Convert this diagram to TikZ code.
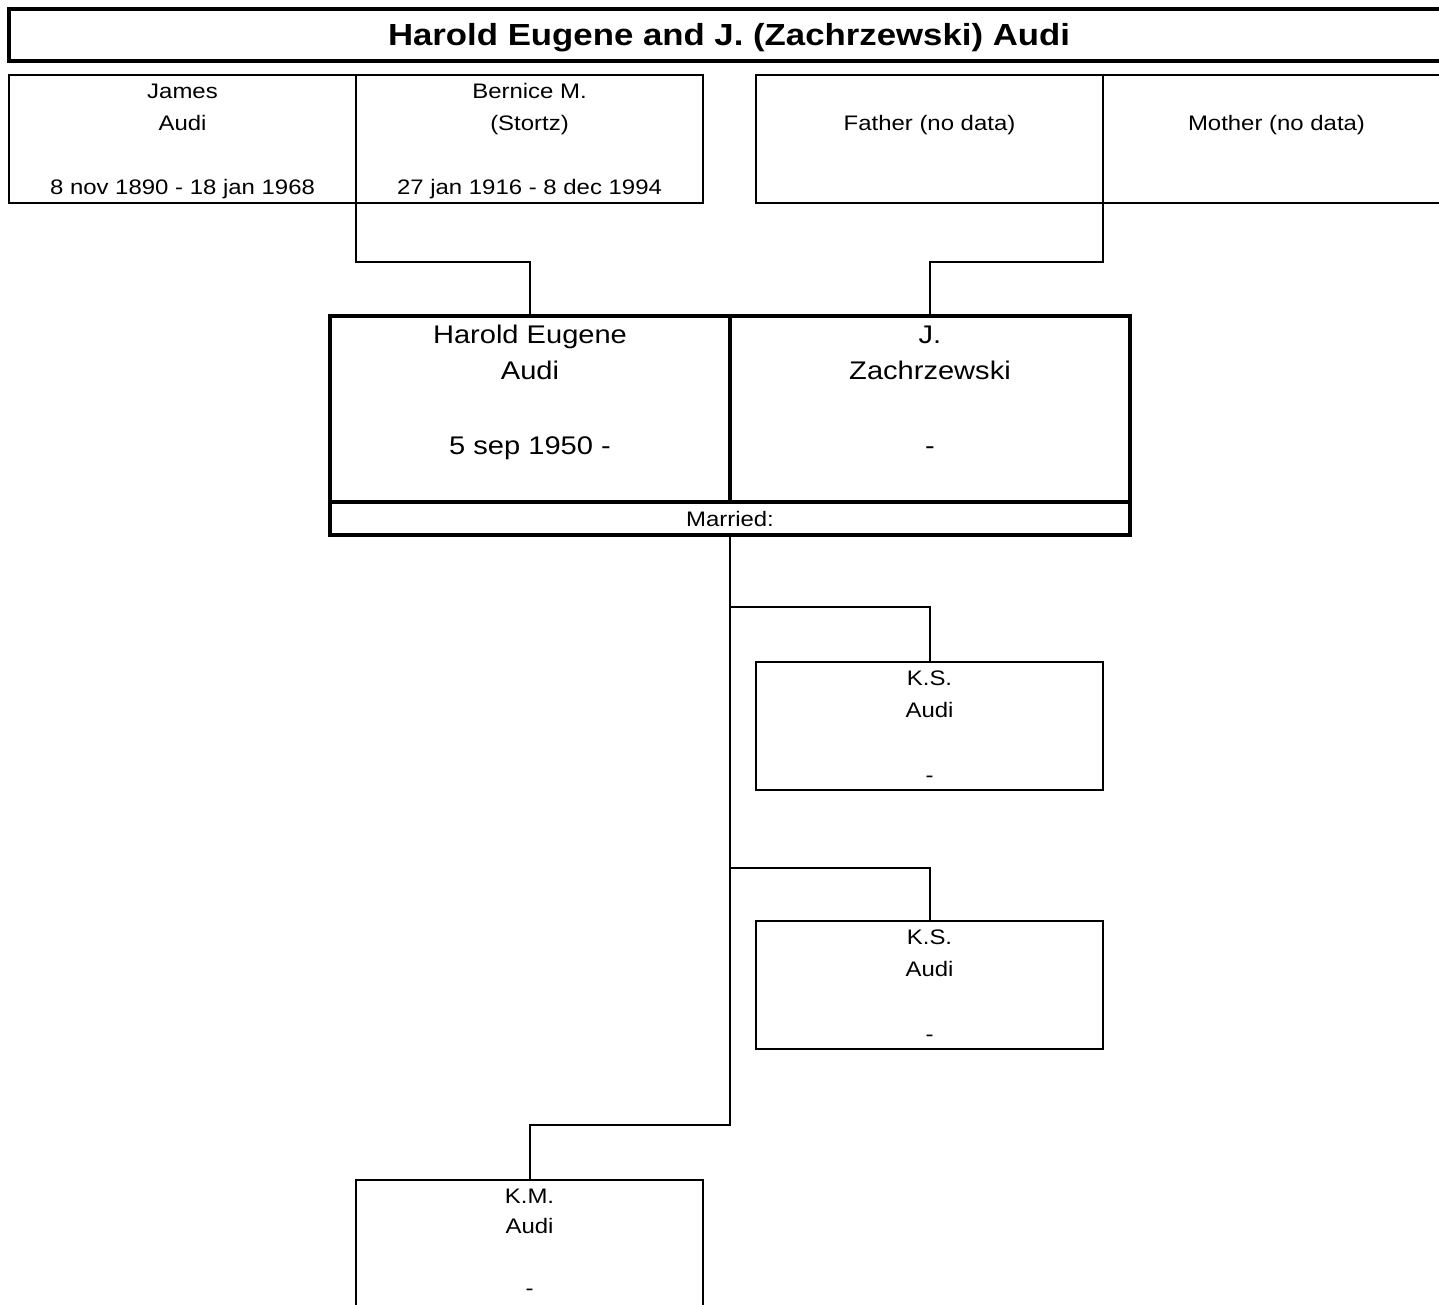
\documentclass[tikz,border=0pt]{standalone}
\usepackage{fontspec}
\setmainfont{Liberation Sans}[FakeStretch=1.14]
\usetikzlibrary{calc}
\tikzset{
  pbox/.style={draw, line width=2pt, inner sep=0pt, outer sep=0pt, minimum width=347pt, minimum height=128pt},
  cbox/.style={draw, line width=3.5pt, inner sep=0pt, outer sep=0pt},
  conn/.style={line width=2pt},
  small/.style={inner sep=0pt, text height=15pt, text depth=0pt, font=\fontsize{21}{25}\selectfont},
  medium/.style={inner sep=0pt, text height=18.3pt, text depth=0pt, font=\fontsize{25.5}{30}\selectfont},
  ttl/.style={inner sep=0pt, text height=21.8pt, text depth=0pt, font=\fontsize{30.5}{36}\selectfont\bfseries},
}
\begin{document}
\begin{tikzpicture}[x=1pt, y=-1pt]
\useasboundingbox (0,0) rectangle (1439,1305);
\fill[white] (0,0) rectangle (1439,1305);
% title
\node[cbox, minimum width=1445pt, minimum height=52pt] (title) at (731.5,35) {};
\node[ttl] (titletext) at (729,35) {Harold Eugene and J. (Zachrzewski) Audi};
% grandparents
\node[pbox] (james) at (182.5,139) {};
\node[pbox] (bernice) at (529.5,139) {};
\node[pbox] (father) at (929.5,139) {};
\node[pbox] (mother) at (1276.5,139) {};
\node[small] (t1) at ($(james.north)+(0,16)$) {James};
\node[small] (t2) at ($(james.north)+(0,48)$) {Audi};
\node[small] (t3) at ($(james.north)+(0,112)$) {8 nov 1890 - 18 jan 1968};
\node[small] (t4) at ($(bernice.north)+(0,16)$) {Bernice M.};
\node[small] (t5) at ($(bernice.north)+(0,48)$) {(Stortz)};
\node[small] (t6) at ($(bernice.north)+(0,112)$) {27 jan 1916 - 8 dec 1994};
\node[small] (t7) at ($(father.north)+(0,48)$) {Father (no data)};
\node[small] (t8) at ($(mother.north)+(0,48)$) {Mother (no data)};
% couple
\node[cbox, minimum width=400pt, minimum height=186pt] (harold) at (530,409) {};
\node[cbox, minimum width=400pt, minimum height=186pt] (jz) at (930,409) {};
\node[cbox, minimum width=800pt, minimum height=33pt] (married) at (730,518.5) {};
\node[medium] (h1) at ($(harold.north)+(0,18)$) {Harold Eugene};
\node[medium] (h2) at ($(harold.north)+(0,54)$) {Audi};
\node[medium] (h3) at ($(harold.north)+(0,129)$) {5 sep 1950 -};
\node[medium] (j1) at ($(jz.north)+(0,18)$) {J.};
\node[medium] (j2) at ($(jz.north)+(0,54)$) {Zachrzewski};
\node[medium] (j3) at ($(jz.north)+(0,129)$) {-};
\node[small] (m1) at (married.center) {Married:};
% children
\node[pbox] (ks1) at (929.5,726) {};
\node[pbox] (ks2) at (929.5,984.5) {};
\node[pbox] (km) at (529.5,1244) {};
\node[small] (k1) at ($(ks1.north)+(0,16)$) {K.S.};
\node[small] (k2) at ($(ks1.north)+(0,48)$) {Audi};
\node[small] (k3) at ($(ks1.north)+(0,113)$) {-};
\node[small] (k4) at ($(ks2.north)+(0,16)$) {K.S.};
\node[small] (k5) at ($(ks2.north)+(0,48)$) {Audi};
\node[small] (k6) at ($(ks2.north)+(0,113)$) {-};
\node[small] (k7) at ($(km.north)+(0,16)$) {K.M.};
\node[small] (k8) at ($(km.north)+(0,46)$) {Audi};
\node[small] (k9) at ($(km.north)+(0,108)$) {-};
% connectors
\coordinate (pl) at (356,262);
\coordinate (pr) at (1103,262);
\coordinate (b1) at (730,607);
\coordinate (b2) at (730,868);
\coordinate (b3) at (730,1125);
\draw[conn] (james.south east) -- (pl) -| (harold.north);
\draw[conn] (father.south east) -- (pr) -| (jz.north);
\draw[conn] (married.south) -- (b3) -| (km.north);
\draw[conn] (b1) -| (ks1.north);
\draw[conn] (b2) -| (ks2.north);
\end{tikzpicture}
\end{document}
